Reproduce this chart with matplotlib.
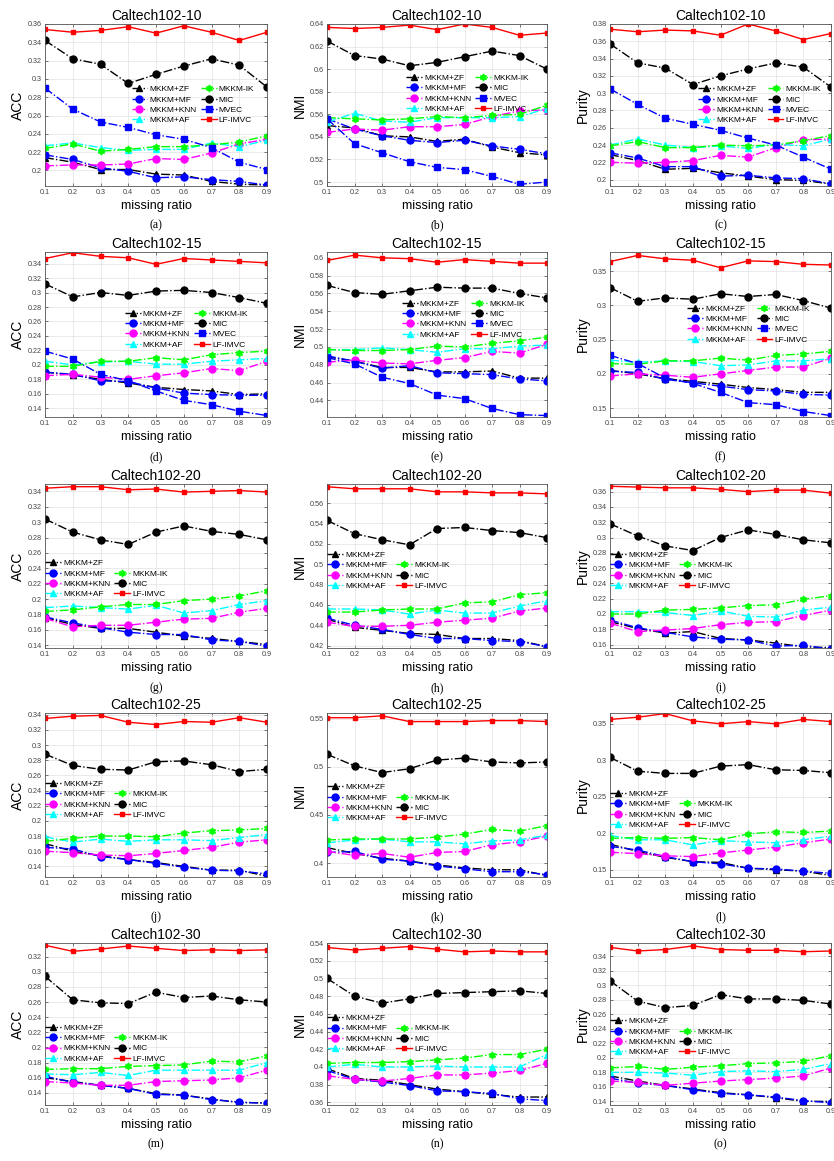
import numpy as np
import matplotlib
matplotlib.use('Agg')
import matplotlib.pyplot as plt
from matplotlib.lines import Line2D
from matplotlib.ticker import FuncFormatter

plt.rcParams['font.family'] = ['Liberation Sans', 'DejaVu Sans']

ratios = [0.1, 0.2, 0.3, 0.4, 0.5, 0.6, 0.7, 0.8, 0.9]
methods = ['MKKM+ZF', 'MKKM+MF', 'MKKM+KNN', 'MKKM+AF', 'MKKM-IK', 'MIC', 'MVEC', 'LF-IMVC']
datasets = ['Caltech102-10', 'Caltech102-15', 'Caltech102-20', 'Caltech102-25', 'Caltech102-30']
metrics = ['ACC', 'NMI', 'Purity']
letters = 'abcdefghijklmno'

# ---- Caltech102-10 ----
acc_10 = {
    'MKKM+ZF':  [0.214, 0.209, 0.201, 0.201, 0.196, 0.195, 0.188, 0.185, 0.184],
    'MKKM+MF':  [0.217, 0.212, 0.203, 0.199, 0.192, 0.193, 0.190, 0.188, 0.184],
    'MKKM+KNN': [0.205, 0.206, 0.206, 0.207, 0.213, 0.212, 0.219, 0.229, 0.234],
    'MKKM+AF':  [0.227, 0.230, 0.225, 0.222, 0.223, 0.223, 0.230, 0.226, 0.233],
    'MKKM-IK':  [0.224, 0.229, 0.221, 0.223, 0.226, 0.226, 0.228, 0.231, 0.238],
    'MIC':      [0.342, 0.322, 0.316, 0.295, 0.305, 0.314, 0.322, 0.315, 0.291],
    'MVEC':     [0.290, 0.267, 0.253, 0.247, 0.239, 0.234, 0.225, 0.209, 0.201],
    'LF-IMVC':  [0.354, 0.351, 0.353, 0.357, 0.350, 0.358, 0.351, 0.342, 0.351],
}
nmi_10 = {
    'MKKM+ZF':  [0.550, 0.548, 0.541, 0.540, 0.536, 0.538, 0.531, 0.526, 0.524],
    'MKKM+MF':  [0.556, 0.547, 0.541, 0.537, 0.535, 0.537, 0.532, 0.529, 0.525],
    'MKKM+KNN': [0.544, 0.547, 0.546, 0.549, 0.549, 0.551, 0.558, 0.563, 0.564],
    'MKKM+AF':  [0.553, 0.561, 0.554, 0.553, 0.557, 0.557, 0.557, 0.558, 0.565],
    'MKKM-IK':  [0.557, 0.556, 0.555, 0.556, 0.558, 0.557, 0.559, 0.560, 0.568],
    'MIC':      [0.625, 0.612, 0.609, 0.603, 0.606, 0.611, 0.616, 0.612, 0.600],
    'MVEC':     [0.556, 0.534, 0.526, 0.518, 0.513, 0.511, 0.505, 0.498, 0.500],
    'LF-IMVC':  [0.637, 0.636, 0.637, 0.639, 0.635, 0.640, 0.637, 0.630, 0.632],
}
pur_10 = {
    'MKKM+ZF':  [0.229, 0.222, 0.212, 0.213, 0.208, 0.204, 0.200, 0.199, 0.195],
    'MKKM+MF':  [0.231, 0.225, 0.215, 0.215, 0.204, 0.205, 0.202, 0.201, 0.195],
    'MKKM+KNN': [0.220, 0.219, 0.220, 0.222, 0.228, 0.226, 0.237, 0.246, 0.247],
    'MKKM+AF':  [0.240, 0.247, 0.240, 0.237, 0.239, 0.236, 0.241, 0.239, 0.247],
    'MKKM-IK':  [0.239, 0.244, 0.237, 0.237, 0.240, 0.239, 0.240, 0.245, 0.251],
    'MIC':      [0.357, 0.335, 0.329, 0.310, 0.320, 0.328, 0.335, 0.330, 0.307],
    'MVEC':     [0.305, 0.287, 0.271, 0.264, 0.257, 0.248, 0.240, 0.226, 0.212],
    'LF-IMVC':  [0.374, 0.371, 0.373, 0.372, 0.367, 0.380, 0.372, 0.362, 0.369],
}

# ---- Caltech102-15 ----
acc_15 = {
    'MKKM+ZF':  [0.190, 0.186, 0.180, 0.175, 0.169, 0.166, 0.164, 0.159, 0.160],
    'MKKM+MF':  [0.190, 0.187, 0.178, 0.177, 0.168, 0.161, 0.159, 0.158, 0.158],
    'MKKM+KNN': [0.185, 0.187, 0.183, 0.180, 0.185, 0.189, 0.195, 0.192, 0.205],
    'MKKM+AF':  [0.205, 0.200, 0.204, 0.205, 0.201, 0.201, 0.205, 0.207, 0.209],
    'MKKM-IK':  [0.198, 0.198, 0.205, 0.205, 0.210, 0.207, 0.214, 0.217, 0.219],
    'MIC':      [0.312, 0.294, 0.300, 0.296, 0.302, 0.303, 0.300, 0.293, 0.285],
    'MVEC':     [0.219, 0.208, 0.187, 0.178, 0.164, 0.151, 0.145, 0.136, 0.130],
    'LF-IMVC':  [0.347, 0.355, 0.350, 0.348, 0.339, 0.347, 0.345, 0.343, 0.341],
}
nmi_15 = {
    'MKKM+ZF':  [0.489, 0.484, 0.477, 0.477, 0.472, 0.472, 0.473, 0.465, 0.465],
    'MKKM+MF':  [0.490, 0.484, 0.476, 0.479, 0.471, 0.470, 0.469, 0.464, 0.462],
    'MKKM+KNN': [0.483, 0.485, 0.482, 0.481, 0.485, 0.488, 0.495, 0.493, 0.503],
    'MKKM+AF':  [0.497, 0.497, 0.499, 0.497, 0.494, 0.498, 0.498, 0.501, 0.502],
    'MKKM-IK':  [0.497, 0.496, 0.496, 0.497, 0.501, 0.500, 0.504, 0.507, 0.511],
    'MIC':      [0.569, 0.561, 0.559, 0.563, 0.567, 0.566, 0.566, 0.560, 0.555],
    'MVEC':     [0.488, 0.481, 0.466, 0.459, 0.446, 0.442, 0.431, 0.424, 0.423],
    'LF-IMVC':  [0.597, 0.603, 0.600, 0.599, 0.595, 0.598, 0.596, 0.594, 0.594],
}
pur_15 = {
    'MKKM+ZF':  [0.205, 0.200, 0.193, 0.189, 0.185, 0.180, 0.177, 0.173, 0.173],
    'MKKM+MF':  [0.204, 0.202, 0.192, 0.187, 0.182, 0.177, 0.175, 0.170, 0.169],
    'MKKM+KNN': [0.197, 0.200, 0.198, 0.195, 0.200, 0.205, 0.210, 0.210, 0.223],
    'MKKM+AF':  [0.220, 0.217, 0.219, 0.218, 0.212, 0.213, 0.219, 0.219, 0.222],
    'MKKM-IK':  [0.215, 0.214, 0.219, 0.219, 0.223, 0.220, 0.227, 0.229, 0.233],
    'MIC':      [0.326, 0.306, 0.311, 0.309, 0.317, 0.313, 0.316, 0.307, 0.296],
    'MVEC':     [0.227, 0.215, 0.194, 0.186, 0.173, 0.158, 0.155, 0.145, 0.139],
    'LF-IMVC':  [0.364, 0.373, 0.368, 0.366, 0.355, 0.365, 0.364, 0.360, 0.359],
}

# ---- Caltech102-20 ----
acc_20 = {
    'MKKM+ZF':  [0.176, 0.167, 0.162, 0.162, 0.157, 0.152, 0.149, 0.145, 0.141],
    'MKKM+MF':  [0.177, 0.169, 0.163, 0.157, 0.154, 0.154, 0.147, 0.145, 0.139],
    'MKKM+KNN': [0.175, 0.164, 0.166, 0.166, 0.170, 0.174, 0.175, 0.183, 0.188],
    'MKKM+AF':  [0.189, 0.191, 0.189, 0.187, 0.192, 0.182, 0.185, 0.193, 0.198],
    'MKKM-IK':  [0.184, 0.186, 0.190, 0.193, 0.193, 0.198, 0.200, 0.204, 0.211],
    'MIC':      [0.304, 0.287, 0.277, 0.271, 0.287, 0.295, 0.288, 0.284, 0.277],
    'LF-IMVC':  [0.344, 0.346, 0.346, 0.342, 0.343, 0.339, 0.340, 0.341, 0.339],
}
nmi_20 = {
    'MKKM+ZF':  [0.446, 0.438, 0.435, 0.432, 0.431, 0.427, 0.427, 0.425, 0.419],
    'MKKM+MF':  [0.447, 0.440, 0.436, 0.431, 0.427, 0.427, 0.425, 0.424, 0.419],
    'MKKM+KNN': [0.443, 0.439, 0.439, 0.440, 0.443, 0.445, 0.447, 0.454, 0.457],
    'MKKM+AF':  [0.456, 0.456, 0.455, 0.451, 0.455, 0.452, 0.452, 0.459, 0.464],
    'MKKM-IK':  [0.453, 0.453, 0.455, 0.456, 0.456, 0.462, 0.463, 0.470, 0.472],
    'MIC':      [0.543, 0.530, 0.524, 0.519, 0.535, 0.536, 0.533, 0.531, 0.526],
    'LF-IMVC':  [0.576, 0.574, 0.574, 0.574, 0.571, 0.571, 0.570, 0.570, 0.569],
}
pur_20 = {
    'MKKM+ZF':  [0.190, 0.181, 0.175, 0.177, 0.168, 0.166, 0.162, 0.157, 0.156],
    'MKKM+MF':  [0.192, 0.182, 0.176, 0.170, 0.167, 0.166, 0.158, 0.159, 0.154],
    'MKKM+KNN': [0.188, 0.177, 0.179, 0.181, 0.186, 0.189, 0.190, 0.198, 0.205],
    'MKKM+AF':  [0.203, 0.203, 0.202, 0.198, 0.204, 0.197, 0.196, 0.205, 0.209],
    'MKKM-IK':  [0.200, 0.200, 0.205, 0.206, 0.208, 0.211, 0.212, 0.219, 0.224],
    'MIC':      [0.318, 0.302, 0.289, 0.283, 0.300, 0.310, 0.304, 0.297, 0.293],
    'LF-IMVC':  [0.367, 0.366, 0.365, 0.365, 0.363, 0.360, 0.362, 0.362, 0.358],
}

# ---- Caltech102-25 ----
acc_25 = {
    'MKKM+ZF':  [0.170, 0.160, 0.154, 0.149, 0.145, 0.140, 0.135, 0.135, 0.127],
    'MKKM+MF':  [0.165, 0.163, 0.153, 0.149, 0.144, 0.139, 0.135, 0.134, 0.130],
    'MKKM+KNN': [0.160, 0.158, 0.155, 0.154, 0.157, 0.161, 0.165, 0.172, 0.175],
    'MKKM+AF':  [0.179, 0.172, 0.176, 0.173, 0.175, 0.175, 0.174, 0.178, 0.182],
    'MKKM-IK':  [0.173, 0.177, 0.180, 0.180, 0.179, 0.184, 0.187, 0.188, 0.190],
    'MIC':      [0.288, 0.273, 0.268, 0.267, 0.278, 0.279, 0.274, 0.265, 0.268],
    'LF-IMVC':  [0.335, 0.338, 0.339, 0.330, 0.327, 0.331, 0.330, 0.336, 0.330],
}
nmi_25 = {
    'MKKM+ZF':  [0.416, 0.410, 0.405, 0.402, 0.398, 0.395, 0.393, 0.393, 0.387],
    'MKKM+MF':  [0.411, 0.412, 0.404, 0.402, 0.397, 0.394, 0.391, 0.391, 0.388],
    'MKKM+KNN': [0.412, 0.408, 0.410, 0.406, 0.411, 0.412, 0.419, 0.422, 0.428],
    'MKKM+AF':  [0.421, 0.424, 0.425, 0.422, 0.422, 0.420, 0.423, 0.424, 0.429],
    'MKKM-IK':  [0.424, 0.425, 0.425, 0.425, 0.427, 0.430, 0.435, 0.433, 0.439],
    'MIC':      [0.513, 0.501, 0.494, 0.498, 0.507, 0.509, 0.505, 0.504, 0.505],
    'LF-IMVC':  [0.551, 0.551, 0.553, 0.547, 0.547, 0.547, 0.548, 0.548, 0.547],
}
pur_25 = {
    'MKKM+ZF':  [0.185, 0.175, 0.167, 0.161, 0.160, 0.152, 0.150, 0.148, 0.142],
    'MKKM+MF':  [0.182, 0.177, 0.168, 0.161, 0.158, 0.152, 0.151, 0.148, 0.145],
    'MKKM+KNN': [0.174, 0.172, 0.169, 0.168, 0.173, 0.177, 0.181, 0.187, 0.192],
    'MKKM+AF':  [0.197, 0.191, 0.191, 0.184, 0.190, 0.188, 0.187, 0.191, 0.196],
    'MKKM-IK':  [0.193, 0.194, 0.193, 0.194, 0.191, 0.199, 0.202, 0.201, 0.203],
    'MIC':      [0.304, 0.285, 0.282, 0.282, 0.292, 0.294, 0.287, 0.286, 0.283],
    'LF-IMVC':  [0.356, 0.359, 0.364, 0.354, 0.350, 0.353, 0.350, 0.356, 0.353],
}

# ---- Caltech102-30 ----
acc_30 = {
    'MKKM+ZF':  [0.160, 0.155, 0.150, 0.146, 0.139, 0.137, 0.132, 0.127, 0.127],
    'MKKM+MF':  [0.162, 0.154, 0.150, 0.146, 0.138, 0.137, 0.131, 0.128, 0.126],
    'MKKM+KNN': [0.155, 0.153, 0.150, 0.150, 0.155, 0.156, 0.157, 0.160, 0.170],
    'MKKM+AF':  [0.165, 0.164, 0.167, 0.163, 0.170, 0.170, 0.170, 0.170, 0.180],
    'MKKM-IK':  [0.171, 0.172, 0.172, 0.175, 0.176, 0.177, 0.182, 0.181, 0.189],
    'MIC':      [0.294, 0.263, 0.259, 0.258, 0.273, 0.266, 0.268, 0.263, 0.260],
    'LF-IMVC':  [0.335, 0.327, 0.330, 0.334, 0.331, 0.328, 0.329, 0.328, 0.329],
}
nmi_30 = {
    'MKKM+ZF':  [0.398, 0.387, 0.385, 0.380, 0.375, 0.372, 0.369, 0.366, 0.366],
    'MKKM+MF':  [0.396, 0.386, 0.383, 0.379, 0.373, 0.372, 0.370, 0.364, 0.362],
    'MKKM+KNN': [0.390, 0.386, 0.384, 0.387, 0.391, 0.391, 0.393, 0.396, 0.404],
    'MKKM+AF':  [0.400, 0.403, 0.400, 0.400, 0.401, 0.400, 0.400, 0.400, 0.414],
    'MKKM-IK':  [0.404, 0.405, 0.405, 0.406, 0.408, 0.410, 0.414, 0.414, 0.420],
    'MIC':      [0.500, 0.480, 0.472, 0.477, 0.483, 0.484, 0.485, 0.486, 0.483],
    'LF-IMVC':  [0.535, 0.532, 0.534, 0.536, 0.533, 0.530, 0.531, 0.530, 0.530],
}
pur_30 = {
    'MKKM+ZF':  [0.175, 0.168, 0.162, 0.157, 0.152, 0.149, 0.145, 0.140, 0.140],
    'MKKM+MF':  [0.172, 0.165, 0.162, 0.156, 0.151, 0.149, 0.146, 0.141, 0.138],
    'MKKM+KNN': [0.168, 0.166, 0.162, 0.165, 0.168, 0.170, 0.172, 0.175, 0.186],
    'MKKM+AF':  [0.180, 0.180, 0.179, 0.176, 0.181, 0.182, 0.181, 0.184, 0.192],
    'MKKM-IK':  [0.186, 0.188, 0.184, 0.187, 0.189, 0.192, 0.193, 0.195, 0.203],
    'MIC':      [0.306, 0.278, 0.269, 0.272, 0.287, 0.281, 0.281, 0.279, 0.274],
    'LF-IMVC':  [0.352, 0.347, 0.349, 0.354, 0.349, 0.348, 0.348, 0.346, 0.347],
}

panels = [acc_10, nmi_10, pur_10,
          acc_15, nmi_15, pur_15,
          acc_20, nmi_20, pur_20,
          acc_25, nmi_25, pur_25,
          acc_30, nmi_30, pur_30]

# axis limits and tick steps
ylims = [(0.183, 0.360), (0.4965, 0.640), (0.1926, 0.380),
         (0.128, 0.356), (0.4214, 0.6065), (0.137, 0.378),
         (0.1365, 0.3495), (0.4177, 0.5787), (0.1555, 0.370),
         (0.126, 0.3422), (0.3855, 0.5559), (0.140, 0.3648),
         (0.124, 0.338), (0.357, 0.540), (0.135, 0.358)]
ysteps = [0.02, 0.02, 0.02,
          0.02, 0.02, 0.05,
          0.02, 0.02, 0.02,
          0.02, 0.05, 0.05,
          0.02, 0.02, 0.02]
# legend anchor (axes fraction, upper-left)
leg_pos = [(0.39, 0.62), (0.36, 0.69), (0.40, 0.62),
           (0.36, 0.65), (0.34, 0.71), (0.35, 0.68),
           (0.0, 0.54), (0.0, 0.59), (0.0, 0.59),
           (0.0, 0.59), (0.0, 0.57), (0.0, 0.53),
           (0.0, 0.50), (0.0, 0.56), (0.0, 0.54)]

style = {
    'MKKM+ZF':  dict(color='k', marker='^', ls='-.'),
    'MKKM+MF':  dict(color='#0000ff', marker='o', ls='-.'),
    'MKKM+KNN': dict(color='#ff00ff', marker='o', ls='-.'),
    'MKKM+AF':  dict(color='#00ffff', marker='^', ls='-.'),
    'MKKM-IK':  dict(color='#00ff00', marker=(6, 1, 0), ls='-.'),
    'MIC':      dict(color='k', marker='o', ls='-.'),
    'MVEC':     dict(color='#0000ff', marker='s', ls='-.', ms=4),
    'LF-IMVC':  dict(color='#ff0000', marker='s', ls='-', ms=3.2),
}

fig = plt.figure(figsize=(8.34, 11.61), dpi=100)
W, H = 834.0, 1161.0
col_x = [(45, 267), (327, 547), (610, 831)]
row_y = [(24, 186), (252, 417), (484, 648), (713, 877), (943, 1105)]

def fmt(v, pos):
    return ('%g' % round(v, 4))

for i, data in enumerate(panels):
    r, c = divmod(i, 3)
    x0, x1 = col_x[c]
    y0, y1 = row_y[r]
    ax = fig.add_axes([x0 / W, 1 - y1 / H, (x1 - x0) / W, (y1 - y0) / H])
    handles = {}
    for m in methods:
        if m not in data:
            continue
        st = dict(style[m])
        ms = st.pop('ms', 5)
        ln, = ax.plot(ratios, data[m], color=st['color'], marker=st['marker'],
                      linestyle=st['ls'], lw=1.0, ms=ms, label=m)
        handles[m] = ln
    ax.set_xlim(0.1, 0.9)
    ax.set_ylim(*ylims[i])
    ax.set_xticks(ratios)
    step = ysteps[i]
    lo = np.ceil(ylims[i][0] / step - 1e-6) * step
    ax.set_yticks(np.arange(lo, ylims[i][1] + 1e-9, step))
    ax.xaxis.set_major_formatter(FuncFormatter(fmt))
    ax.yaxis.set_major_formatter(FuncFormatter(fmt))
    ax.tick_params(direction='in', labelsize=5.2, length=2, width=0.5,
                   colors='#444444', top=True, right=True, pad=2)
    ax.grid(True, color='#e2e2e2', lw=0.5)
    ax.set_axisbelow(True)
    for sp in ax.spines.values():
        sp.set_color('#555555')
        sp.set_linewidth(0.6)
    ax.set_title(datasets[r], fontsize=10, pad=3)
    ax.set_xlabel('missing ratio', fontsize=9, labelpad=3)
    ax.set_ylabel(metrics[c], fontsize=10, labelpad=2)
    ax.text(0.5, -0.245, '(%s)' % letters[i], transform=ax.transAxes,
            ha='center', va='center', fontsize=8.5, family='Liberation Serif')

    if 'MVEC' in data:
        order = ['MKKM+ZF', 'MKKM+MF', 'MKKM+KNN', 'MKKM+AF',
                 'MKKM-IK', 'MIC', 'MVEC', 'LF-IMVC']
        hs = [handles[m] for m in order]
        ls = order
    else:
        blank = Line2D([], [], color='none')
        order = ['MKKM+ZF', 'MKKM+MF', 'MKKM+KNN', 'MKKM+AF',
                 None, 'MKKM-IK', 'MIC', 'LF-IMVC']
        hs = [handles[m] if m else blank for m in order]
        ls = [m if m else '' for m in order]
    ax.legend(hs, ls, ncol=2, loc='upper left', bbox_to_anchor=leg_pos[i],
              frameon=False, fontsize=6.0, handlelength=1.9, handletextpad=0.25,
              labelspacing=0.3, columnspacing=0.5, borderpad=0, borderaxespad=0)

fig.savefig('out.png', dpi=100)
